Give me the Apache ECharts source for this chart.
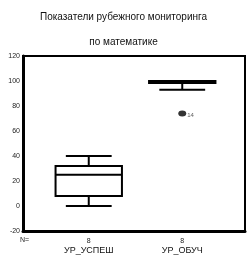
<!DOCTYPE html>
<html>
<head>
<meta charset="utf-8">
<script src="https://cdn.jsdelivr.net/npm/echarts@6/dist/echarts.min.js"></script>
<style>
  html, body { margin: 0; padding: 0; background: #fff; }
  #chart { width: 247px; height: 256px; }
</style>
</head>
<body>
<div id="chart"></div>
<script>
// data
const categories = ['УР_УСПЕШ', 'УР_ОБУЧ']
const counts = [8, 8]
// [min, Q1, median, Q3, max]
const boxValues = [
  [0, 8, 25, 32, 40],
  [93, 98.5, 100, 100, 100]
]
const outliers = [[1, 74, '14']]
const yTicks = { min: -20, max: 120, interval: 20 }

const chart = echarts.init(document.getElementById('chart'))

const font = 'Liberation Sans, Arial, sans-serif'

const boxData = boxValues.map((v, i) => [i].concat(v))

function renderBox(params, api) {
  const i = api.value(0)
  const band = api.size([1, 0])[0]
  const half = band * 0.355
  const capHalf = band * 0.245
  const pMin = api.coord([i, api.value(1)])
  const pQ1 = api.coord([i, api.value(2)])
  const pMed = api.coord([i, api.value(3)])
  const pQ3 = api.coord([i, api.value(4)])
  const pMax = api.coord([i, api.value(5)])
  const x = pMed[0]
  const st = { stroke: '#000', lineWidth: 2, fill: null }
  return {
    type: 'group',
    children: [
      { type: 'line', shape: { x1: x, y1: pMax[1], x2: x, y2: pQ3[1] }, style: st },
      { type: 'line', shape: { x1: x, y1: pQ1[1], x2: x, y2: pMin[1] }, style: st },
      { type: 'line', shape: { x1: x - capHalf, y1: pMax[1], x2: x + capHalf, y2: pMax[1] }, style: st },
      { type: 'line', shape: { x1: x - capHalf, y1: pMin[1], x2: x + capHalf, y2: pMin[1] }, style: st },
      { type: 'rect', shape: { x: x - half, y: pQ3[1], width: half * 2, height: pQ1[1] - pQ3[1] }, style: { stroke: '#000', lineWidth: 2, fill: '#fff' } },
      { type: 'line', shape: { x1: x - half, y1: pMed[1], x2: x + half, y2: pMed[1] }, style: st }
    ]
  }
}

const option = {
  animation: false,
  backgroundColor: '#fff',
  title: {
    text: 'Показатели рубежного мониторинга\nпо математике',
    left: 'center',
    top: 0,
    textStyle: { fontFamily: font, fontSize: 10, fontWeight: 'normal', color: '#111', lineHeight: 25 }
  },
  grid: [
    { left: 42, right: 18, top: 56, bottom: 25 },
    { left: 23, right: 2, top: 56, bottom: 25, show: true, borderColor: '#000', borderWidth: 2, backgroundColor: 'transparent' }
  ],
  xAxis: [
    {
      type: 'category', gridIndex: 0, data: categories,
      axisLine: { show: false }, axisTick: { show: false },
      axisLabel: {
        margin: 6,
        interval: 0,
        formatter: (v, i) => '{n|' + counts[i] + '}\n{c|' + v + '}',
        rich: {
          n: { fontFamily: font, fontSize: 7, color: '#222', lineHeight: 9, align: 'center' },
          c: { fontFamily: font, fontSize: 9, color: '#111', lineHeight: 10, align: 'center' }
        }
      }
    },
    {
      type: 'category', gridIndex: 1, data: [''],
      axisLine: { show: true, onZero: false, lineStyle: { color: '#000', width: 3 } },
      axisTick: { show: false }, axisLabel: { show: false }
    }
  ],
  yAxis: [
    { type: 'value', gridIndex: 0, ...yTicks, show: false },
    {
      type: 'value', gridIndex: 1, ...yTicks,
      axisLine: { show: true, onZero: false, lineStyle: { color: '#000', width: 3 } },
      axisTick: { show: false },
      splitLine: { show: false },
      axisLabel: { fontFamily: font, fontSize: 7, color: '#222', margin: 3 }
    }
  ],
  graphic: [
    { type: 'text', left: 20, top: 237, style: { text: 'N=', font: '7px ' + font, fill: '#222' } }
  ],
  series: [
    {
      type: 'custom', xAxisIndex: 0, yAxisIndex: 0,
      renderItem: renderBox,
      data: boxData,
      encode: { x: 0, y: [1, 2, 3, 4, 5] }
    },
    {
      type: 'scatter', xAxisIndex: 0, yAxisIndex: 0,
      data: outliers,
      symbol: 'circle', symbolSize: [8, 6],
      itemStyle: { color: '#000' },
      label: {
        show: true, position: 'right', distance: 1, offset: [0, 2],
        formatter: p => p.data[2],
        fontFamily: font, fontSize: 6, color: '#333'
      }
    }
  ]
}

chart.setOption(option)
</script>
</body>
</html>
